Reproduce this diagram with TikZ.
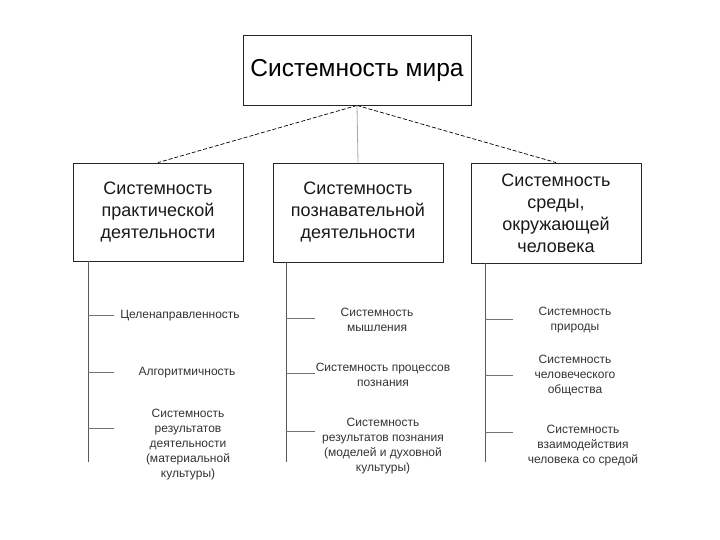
\documentclass[tikz,border=0pt]{standalone}
\usepackage{fontspec}
\setmainfont{Liberation Sans}
\usetikzlibrary{positioning}

\begin{document}
\begin{tikzpicture}[
    x=1pt, y=-1pt,
    mainbox/.style={draw=black!85, line width=0.9pt, minimum width=228pt, minimum height=70pt, align=center, font=\fontsize{24.5}{30}\selectfont},
    groupbox/.style={draw=black!85, line width=0.9pt, minimum width=170pt, align=center, text=black!90, font=\fontsize{18}{22}\selectfont},
    item/.style={align=center, text=black!80, font=\fontsize{12}{15}\selectfont},
    spine/.style={draw=black!65, line width=0.9pt},
    tick/.style={draw=black!55, line width=0.8pt},
    link/.style={draw=black, line width=0.7pt, dash pattern=on 4pt off 2pt}
]
    \useasboundingbox (0,0) rectangle (720,540);

    % ===============================
    % 1. BOXES
    % ===============================
    \node[mainbox] (world) at (357,70) {Системность мира};

    \node[groupbox, minimum height=98pt] (prac) at (158,212) {Системность\\практической\\деятельности};
    \node[groupbox, minimum height=99pt] (cogn) at (358,212.5) {Системность\\познавательной\\деятельности};
    \node[groupbox, minimum height=100pt] (envi) at (556,213) {Системность\\среды,\\окружающей\\человека};

    % ===============================
    % 2. CONNECTIONS
    % ===============================
    \draw[link] (world.south) -- (prac.north);
    \draw[link] (world.south) -- (envi.north);
    \draw[draw=black!35, line width=0.8pt] (world.south) -- (cogn.north);

    % spines below the boxes
    \coordinate (pracend) at (88,462);
    \coordinate (cognend) at (286,462);
    \coordinate (enviend) at (485,462);
    \draw[spine] (prac.south west -| pracend) -- (pracend);
    \draw[spine] (cogn.south west -| cognend) -- (cognend);
    \draw[spine] (envi.south west -| enviend) -- (enviend);

    % ticks
    \foreach \y [count=\i] in {315,372,428} {
        \coordinate (pa\i) at (88,\y);
        \coordinate (pb\i) at (114,\y);
        \draw[tick] (pa\i) -- (pb\i);
    }
    \foreach \y [count=\i] in {318,373,431} {
        \coordinate (ca\i) at (286,\y);
        \coordinate (cb\i) at (315,\y);
        \draw[tick] (ca\i) -- (cb\i);
    }
    \foreach \y [count=\i] in {319,375,432} {
        \coordinate (ea\i) at (485,\y);
        \coordinate (eb\i) at (513,\y);
        \draw[tick] (ea\i) -- (eb\i);
    }

    % ===============================
    % 3. ITEMS
    % ===============================
    \node[item] (pgoal) at (180,316) {Целенаправленность};
    \node[item] (palgo) at (187,373) {Алгоритмичность};
    \node[item] (pres) at (188,445) {Системность\\результатов\\деятельности\\(материальной\\культуры)};

    \node[item] (cthink) at (377,320) {Системность\\мышления};
    \node[item] (cproc) at (383,375) {Системность процессов\\познания};
    \node[item] (cres) at (383,446) {Системность\\результатов познания\\(моделей и духовной\\культуры)};

    \node[item] (enat) at (575,320) {Системность\\природы};
    \node[item] (esoc) at (575,376) {Системность\\человеческого\\общества};
    \node[item] (eint) at (583,446) {Системность\\взаимодействия\\человека со средой};

\end{tikzpicture}
\end{document}
